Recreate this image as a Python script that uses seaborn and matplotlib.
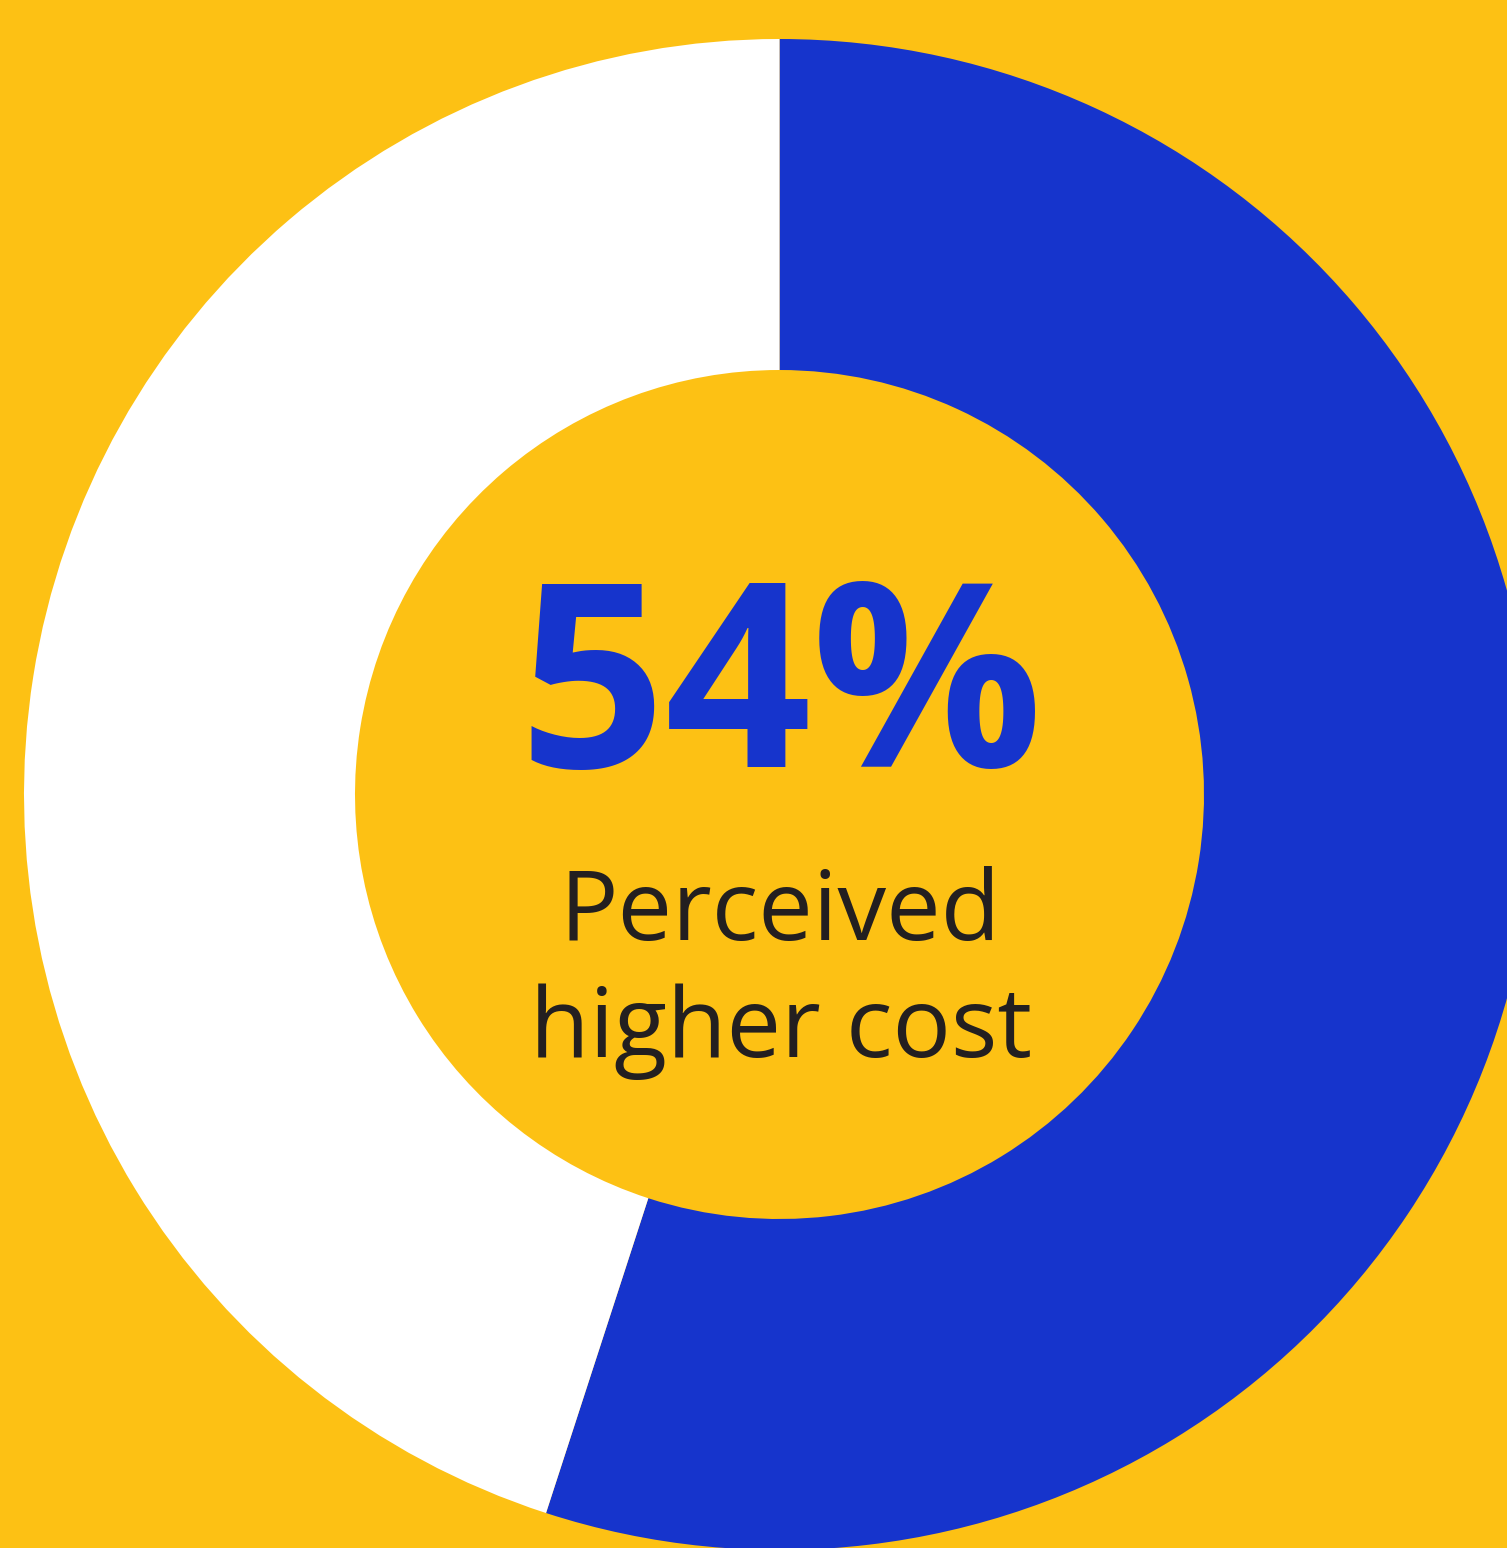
import matplotlib
matplotlib.use("Agg")
import matplotlib.pyplot as plt
import seaborn as sns

# Data
segments = ["Perceived higher cost", "Other"]
shares = [55, 45]
headline = "54%"
caption_lines = ["Perceived", "higher cost"]
colors = ["#1634CC", "#FFFFFF"]

BG = "#FDC114"
TEXT = "#231F20"

sns.set_style("white")
plt.rcParams['font.family'] = ['Open Sans', 'DejaVu Sans']

W, H = 1507, 1548
fig = plt.figure(figsize=(W / 100, H / 100), dpi=100, facecolor=BG)
ax = fig.add_axes([0, 0, 1, 1])
ax.set_facecolor(BG)

cx, cy = 779.5, H - 794.5
R_out, R_in = 755.5, 424.5
ax.pie(shares, colors=colors, startangle=90, counterclock=False,
       center=(cx, cy), radius=R_out,
       wedgeprops=dict(width=R_out - R_in, linewidth=0))
ax.set_xlim(0, W)
ax.set_ylim(0, H)
ax.set_aspect('auto')
ax.axis('off')

ax.text(781, H - 767, headline, ha='center', va='baseline',
        fontsize=185, fontweight='bold', color="#1634CC")
ax.text(780, H - 940, caption_lines[0], ha='center', va='baseline',
        fontsize=70, color=TEXT)
ax.text(781, H - 1057, caption_lines[1], ha='center', va='baseline',
        fontsize=70, color=TEXT)

fig.savefig("out.png", dpi=100, facecolor=BG)
